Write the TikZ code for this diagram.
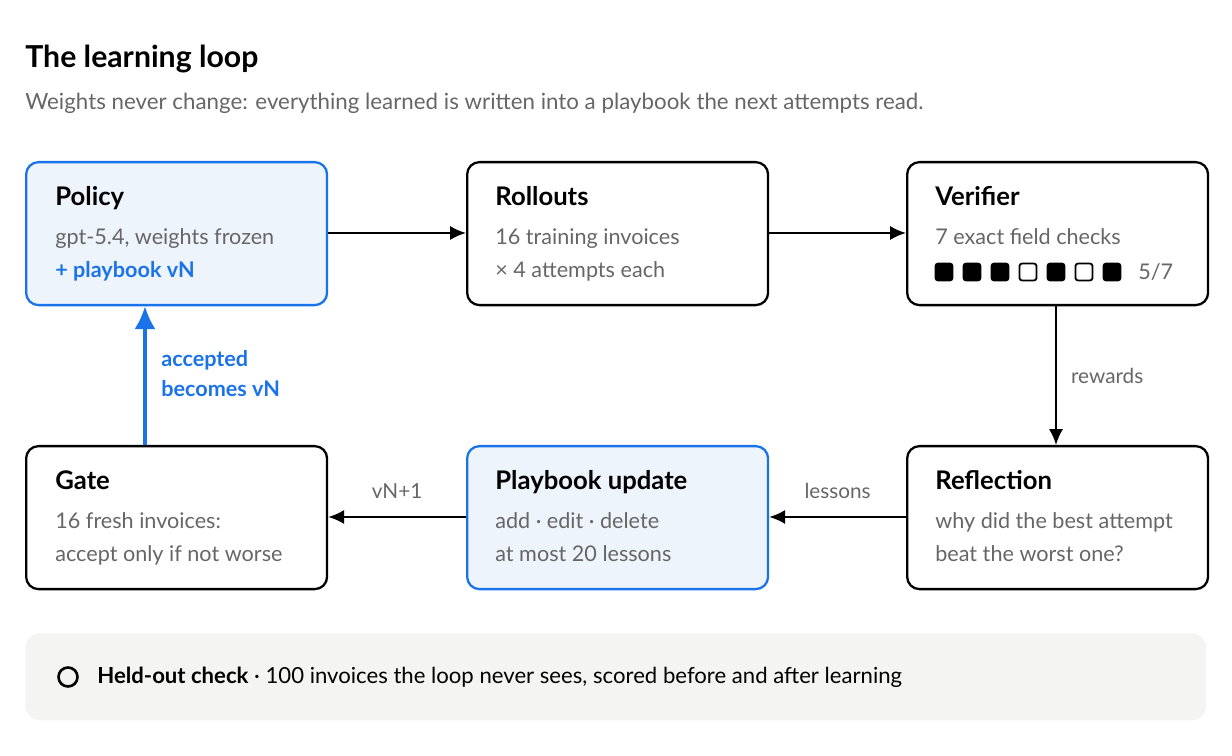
\documentclass[tikz,border=0pt]{standalone}
\usepackage{fontspec}
\setmainfont{Lato}
\usetikzlibrary{arrows.meta}
\definecolor{accent}{HTML}{1A73E8}
\definecolor{paleblue}{HTML}{EEF4FC}
\definecolor{txtgray}{HTML}{666666}
\definecolor{panel}{HTML}{F4F4F2}
\begin{document}
\begin{tikzpicture}[x=0.02cm,y=-0.02cm,
% common options for the boxes:
box/.style = {draw, line width=1.3pt, rounded corners=7pt, minimum width=6.02cm,
            minimum height=2.86cm, anchor=north west, inner sep=0},
bluebox/.style = {box, draw=accent, fill=paleblue},
% text inside the boxes:
head/.style = {anchor=base west, font=\fontsize{14.6}{17}\selectfont\bfseries, inner sep=0},
body/.style = {anchor=base west, font=\fontsize{12.3}{15}\selectfont, text=txtgray, inner sep=0},
lbl/.style = {font=\fontsize{11.8}{14}\selectfont, text=txtgray, inner sep=0},
flow/.style = {-{Latex[length=9pt,width=8pt]}, line width=1.2pt},
sq/.style = {draw, line width=1pt, rounded corners=1.5pt, minimum size=0.34cm, inner sep=0}]
\useasboundingbox (0,0) rectangle (1232,756);
\node[anchor=base west, inner sep=0, font=\fontsize{17.2}{20}\selectfont\bfseries] (title) at (25,68) {The learning loop};
\node[anchor=base west, inner sep=0, font=\fontsize{12.7}{15}\selectfont, text=txtgray] (sub) at (25,110) {Weights never change: everything learned is written into a playbook the next attempts read.};
% top row
\node[bluebox] (policy) at (25,161) {};
\node[box] (roll) at (466,161) {};
\node[box] (ver) at (906,161) {};
% bottom row
\node[box] (gate) at (25,445) {};
\node[bluebox] (book) at (466,445) {};
\node[box] (refl) at (906,445) {};
\node[head] at (55,206) {Policy};
\node[body] at (55,245) {gpt-5.4, weights frozen};
\node[body, text=accent, font=\fontsize{12.3}{15}\selectfont\bfseries] at (55,278) {+ playbook vN};
\node[head] at (495,206) {Rollouts};
\node[body] at (495,245) {16 training invoices};
\node[body] at (495,278) {× 4 attempts each};
\node[head] at (935,206) {Verifier};
\node[body] at (935,245) {7 exact field checks};
\foreach \i/\f in {0/black,1/black,2/black,3/white,4/black,5/white,6/black}
  \node[sq, fill=\f] (c\i) at (944+\i*28,272) {};
\node[body, anchor=west] at (1138,272) {5/7};
\node[head] at (55,490) {Gate};
\node[body] at (55,529) {16 fresh invoices:};
\node[body] at (55,562) {accept only if not worse};
\node[head] at (495,490) {Playbook update};
\node[body] at (495,529) {add · edit · delete};
\node[body] at (495,562) {at most 20 lessons};
\node[head] at (935,490) {Reflection};
\node[body] at (935,529) {why did the best attempt};
\node[body] at (935,562) {beat the worst one?};
% connectors
\draw[flow] (policy.east |- 0,233) -- (roll.west |- 0,233);
\draw[flow] (roll.east |- 0,233) -- (ver.west |- 0,233);
\draw[flow] (ver.south -| 1056,0) -- node[lbl, right=8pt] {rewards} (refl.north -| 1056,0);
\draw[flow] (refl.west |- 0,517) -- node[lbl, above=10pt] {lessons} (book.east |- 0,517);
\draw[flow] (book.west |- 0,517) -- node[lbl, above=10pt] {vN+1} (gate.east |- 0,517);
\draw[-{Latex[length=13pt,width=12pt]}, draw=accent, line width=1.8pt] (gate.north -| 145,0) -- (policy.south -| 145,0);
\node[anchor=north west, inner sep=0, align=left, text=accent, font=\fontsize{12.3}{17.4}\selectfont\bfseries] at (161,350) {accepted\\becomes vN};
% held-out panel
\node[fill=panel, rounded corners=8pt, minimum width=23.62cm, minimum height=1.74cm, anchor=north west, inner sep=0] (held) at (25,633) {};
\draw[line width=1.5pt] (68,677) circle (0.19cm);
\node[anchor=west, inner sep=0, font=\fontsize{12.6}{15}\selectfont] at (97,677) {\textbf{Held-out check} · 100 invoices the loop never sees, scored before and after learning};
\end{tikzpicture}
\end{document}
